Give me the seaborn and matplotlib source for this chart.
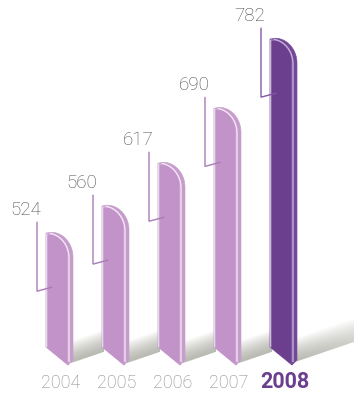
import numpy as np
import matplotlib
matplotlib.use("Agg")
import matplotlib.pyplot as plt
from matplotlib.patches import Polygon
from matplotlib.colors import to_rgb
from matplotlib.transforms import ScaledTranslation
import pandas as pd
import seaborn as sns

# ---- data -------------------------------------------------------------
years = ["2004", "2005", "2006", "2007", "2008"]
values = [524, 560, 617, 690, 782]
highlight_year = "2008"

# ---- style ------------------------------------------------------------
sns.set_style("white")
plt.rcParams["font.family"] = ["Roboto", "DejaVu Sans"]

LIGHT = "#c293c8"
DARK = "#6b3f8e"

W, H = 354, 393
AX_BOTTOM_PX = 372
fig = plt.figure(figsize=(W / 100, H / 100), dpi=100)
ax = fig.add_axes([0, (H - AX_BOTTOM_PX) / H, 1, AX_BOTTOM_PX / H])
ax.set_facecolor("none")

df = pd.DataFrame({"year": years, "value": values})
palette = {y: (DARK if y == highlight_year else LIGHT) for y in years}
sns.barplot(data=df, x="year", y="value", hue="year", palette=palette,
            width=0.393, saturation=1, legend=False, ax=ax, zorder=3)

# axis window: floor of the bars sits above the year labels
XLIM = (-57 / 56, (W - 57) / 56)
YLIM = (339.4, 834.1)
DX = (XLIM[1] - XLIM[0]) / W            # data units per pixel (x)
DY = (YLIM[1] - YLIM[0]) / AX_BOTTOM_PX  # data units per pixel (y)
FLOOR = 372.6


def mix(c, other, f):
    a, b = np.array(to_rgb(c)), np.array(to_rgb(other))
    return tuple(a * (1 - f) + b * f)


SHADOW_DARK = np.array(to_rgb("#b9bab2"))
WHITE = np.ones(3)


def draw_shadow(xa, xb, y_low_a, slope, height, fade_right=False):
    """Gray ground shadow: parallelogram with a soft gradient."""
    low_b = y_low_a + slope * (xb - xa)
    ymin = min(y_low_a, low_b)
    ymax = max(y_low_a, low_b) + height
    nx, ny = 160, 120
    xs = np.linspace(xa, xb, nx)
    ys = np.linspace(ymin, ymax, ny)
    X, Y = np.meshgrid(xs, ys)
    low = y_low_a + slope * (X - xa)
    s = np.clip((Y - low) / height, 0, 1) ** 1.4
    img = SHADOW_DARK[None, None, :] * (1 - s[..., None]) + WHITE * s[..., None]
    if fade_right:
        f = ((X - xa) / (xb - xa))[..., None] * 0.35
        img = img * (1 - f) + WHITE * f
    im = ax.imshow(img, extent=[xa, xb, ymin, ymax], origin="lower",
                   aspect="auto", interpolation="bilinear", zorder=1)
    poly = Polygon([(xa, y_low_a), (xb, low_b), (xb, low_b + height),
                    (xa, y_low_a + height)], closed=True,
                   transform=ax.transData)
    im.set_clip_path(poly)


bars = sorted(ax.patches, key=lambda p: p.get_x())
t = np.linspace(0, np.pi / 2, 60)
for i, (p, year, val) in enumerate(zip(bars, years, values)):
    x0, w, top = p.get_x(), p.get_width(), p.get_height()
    face = DARK if year == highlight_year else LIGHT
    side_col = mix(face, "white", 0.08) if year != highlight_year else mix(face, "#9a6cc0", 0.2)
    hl_col = "#f4e8f5" if year != highlight_year else "#c7b1da"
    lead_col = "#a97bb7" if year != highlight_year else "#8457a6"

    rx, ry = w, 25 * DY
    cx = x0 + rx * np.sin(t)
    cy = top - ry * (1 - np.cos(t))
    bot_r = FLOOR - 18 * DY

    # front face: rounded top, slanted bottom
    front = [(x0, FLOOR), (x0, top)] + list(zip(cx, cy)) + [(x0 + w, bot_r)]
    clip = Polygon(front, closed=True, transform=ax.transData)
    p.set_clip_path(clip)
    ax.add_patch(Polygon(front, closed=True, facecolor="none",
                         edgecolor=face, lw=0.5, zorder=3.1))

    # side face (extrusion)
    sx, sy = 5 * DX, 1 * DY
    side = (list(zip(cx, cy)) + [(x0 + w, bot_r), (x0 + w + sx, FLOOR - 13 * DY)]
            + list(zip(cx[::-1] + sx, cy[::-1] + sy)))
    ax.add_patch(Polygon(side, closed=True, facecolor=side_col,
                         edgecolor=side_col, lw=0.4, zorder=2.9))

    # highlight along the front edge
    k = t > 0.12
    hx = list(cx[k] + 1.0 * DX) + [x0 + w + 1.0 * DX]
    hy = list(cy[k]) + [bot_r + 3 * DY]
    ax.plot(hx, hy, color=hl_col, lw=1.0, zorder=3.5, solid_capstyle="butt")

    # ground shadow towards the next bar
    xr = x0 + w + sx
    if i < len(bars) - 1:
        xb = bars[i + 1].get_x() + 2 * DX
        draw_shadow(xr - 2 * DX, xb, FLOOR - 16 * DY, 0.34 * DY / DX, 22 * DY)
    else:
        draw_shadow(xr - 2 * DX, XLIM[1] + 2 * DX, FLOOR - 15 * DY,
                    0.34 * DY / DX, 24 * DY, fade_right=True)

    # value label with leader line
    lx = x0 - 9 * DX
    ax.plot([lx, lx, x0 + 6 * DX],
            [top + 11 * DY, top - 58 * DY, top - 54 * DY],
            color=lead_col, lw=1.0, zorder=4, solid_joinstyle="miter")
    ax.text(x0 - 20 * DX, top + 23 * DY, f"{val}", ha="center", va="center",
            fontsize=13.5, color="#484848", fontweight="light", zorder=5)

ax.set_xlim(*XLIM)
ax.set_ylim(*YLIM)
ax.set_yticks([])
ax.set_xlabel("")
ax.set_ylabel("")
sns.despine(ax=ax, left=True, bottom=True)

ax.set_xticks(range(len(years)))
ax.set_xticklabels(years)
ax.tick_params(axis="x", length=0, pad=11.5)
shift = ScaledTranslation(4 / 100, 0, fig.dpi_scale_trans)
for lab in ax.get_xticklabels():
    lab.set_verticalalignment("baseline")
    lab.set_transform(lab.get_transform() + shift)
    if lab.get_text() == highlight_year:
        lab.set_fontsize(15.5)
        lab.set_fontweight("bold")
        lab.set_color(DARK)
    else:
        lab.set_fontsize(13)
        lab.set_fontweight("light")
        lab.set_color("#878787")

fig.savefig("out.png", dpi=100)
